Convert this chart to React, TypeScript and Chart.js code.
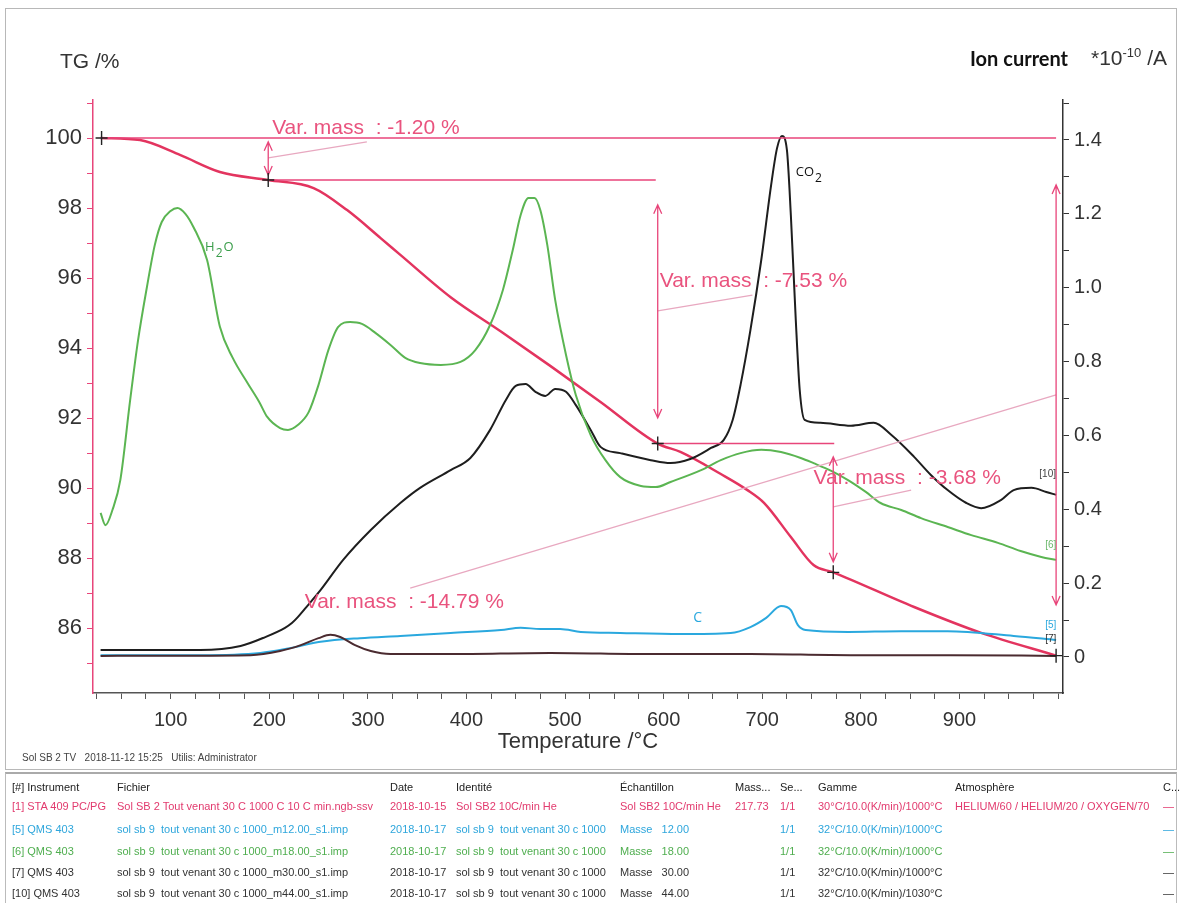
import React, { useEffect, useRef } from 'react';
import { Chart, registerables } from 'chart.js';
Chart.register(...registerables);

const FONT = '"Liberation Sans", Arial, Helvetica, sans-serif';

// ---- TG curve (mass %) ----
const tgTemp = [29, 69, 110, 150, 199, 245, 279, 313, 333, 384, 435, 485, 536, 594, 617, 658, 685, 702, 729, 752, 772, 854, 922, 998];
const tgMass = [100.0, 99.94, 99.51, 99.03, 98.8, 98.57, 97.94, 97.14, 96.66, 95.45, 94.47, 93.49, 92.46, 91.27, 91.03, 90.4, 89.94, 89.57, 88.6, 87.8, 87.59, 86.6, 85.86, 85.21];

// ---- Ion currents (*1e-10 A) ----
const h2oTemp = [29, 34, 41, 49, 59, 67, 76, 84, 91, 100, 107, 115, 123, 137, 150, 163, 178, 190, 198, 211, 219, 229, 240, 250, 260, 270, 282, 294, 308, 323, 338, 353, 374, 394, 409, 424, 437, 447, 455, 463, 469, 475, 482, 490, 501, 511, 526, 541, 556, 577, 592, 607, 638, 658, 678, 699, 719, 739, 752, 770, 787, 805, 820, 841, 861, 888, 912, 939, 962, 983, 998];
const h2oVal = [0.39, 0.357, 0.398, 0.479, 0.696, 0.858, 1.002, 1.116, 1.178, 1.208, 1.216, 1.2, 1.165, 1.075, 0.894, 0.81, 0.742, 0.69, 0.65, 0.62, 0.615, 0.628, 0.663, 0.737, 0.831, 0.894, 0.907, 0.902, 0.877, 0.845, 0.81, 0.796, 0.791, 0.799, 0.831, 0.899, 0.994, 1.102, 1.197, 1.243, 1.243, 1.21, 1.116, 0.967, 0.818, 0.709, 0.601, 0.533, 0.487, 0.463, 0.46, 0.474, 0.506, 0.533, 0.552, 0.561, 0.555, 0.539, 0.525, 0.504, 0.479, 0.447, 0.417, 0.398, 0.376, 0.352, 0.33, 0.309, 0.287, 0.271, 0.263];

const co2Temp = [29, 79, 130, 171, 196, 216, 223, 229, 237, 252, 275, 303, 333, 353, 384, 404, 424, 440, 450, 460, 470, 480, 490, 501, 511, 526, 536, 556, 587, 607, 627, 648, 661, 670, 678, 688, 699, 709, 715, 720, 725, 729, 734, 738, 743, 759, 790, 813, 831, 854, 871, 888, 907, 922, 942, 955, 973, 988, 998];
const co2Val = [0.019, 0.019, 0.019, 0.03, 0.054, 0.079, 0.092, 0.108, 0.133, 0.181, 0.263, 0.344, 0.417, 0.458, 0.506, 0.539, 0.615, 0.696, 0.734, 0.739, 0.718, 0.707, 0.726, 0.718, 0.682, 0.615, 0.569, 0.552, 0.533, 0.525, 0.536, 0.566, 0.588, 0.642, 0.737, 0.885, 1.075, 1.278, 1.378, 1.411, 1.373, 1.197, 0.913, 0.723, 0.642, 0.634, 0.626, 0.634, 0.601, 0.542, 0.493, 0.452, 0.417, 0.403, 0.425, 0.452, 0.458, 0.447, 0.439];

const cTemp = [29, 130, 191, 221, 252, 292, 333, 384, 435, 455, 475, 495, 516, 556, 617, 668, 688, 704, 719, 729, 736, 744, 787, 841, 888, 955, 998];
const cVal = [0.005, 0.005, 0.011, 0.024, 0.041, 0.051, 0.057, 0.065, 0.073, 0.079, 0.076, 0.076, 0.068, 0.065, 0.062, 0.065, 0.081, 0.106, 0.138, 0.127, 0.087, 0.073, 0.068, 0.07, 0.07, 0.057, 0.046];

const m30Temp = [29, 181, 211, 232, 250, 262, 272, 287, 303, 323, 384, 485, 587, 688, 790, 891, 998];
const m30Val = [0.003, 0.005, 0.016, 0.032, 0.051, 0.06, 0.054, 0.032, 0.016, 0.008, 0.008, 0.011, 0.008, 0.008, 0.005, 0.005, 0.003];

// ---- axis ticks ----
const xMajorTicks = [100, 200, 300, 400, 500, 600, 700, 800, 900];
const tgMajorTicks = [86, 88, 90, 92, 94, 96, 98, 100];
const ionMajorTicks = [0, 0.2, 0.4, 0.6, 0.8, 1.0, 1.2, 1.4];

// ---- mass-step evaluation (temperature °C, mass %) ----
const stepTemp = [30, 199, 594, 772, 998];
const stepMass = [100.0, 98.8, 91.27, 87.59, 85.21];
const levelFromTemp = [30, 199, 594];
const levelToTemp = [998, 592, 773];
const levelMass = [100.0, 98.8, 91.27];
const arrowTemp = [199, 594, 772, 998];
const arrowFromMass = [99.89, 98.09, 90.89, 98.66];
const arrowToMass = [98.94, 92.0, 87.89, 86.66];
const leaderT1 = [199, 594, 772, 343];
const leaderM1 = [99.43, 95.06, 89.46, 87.14];
const leaderT2 = [299, 690, 851, 998];
const leaderM2 = [99.89, 95.51, 89.94, 92.66];
const stepLabels = ['Var. mass  : -1.20 %', 'Var. mass  : -7.53 %', 'Var. mass  : -3.68 %', 'Var. mass  : -14.79 %'];
const stepLabelTemp = [203, 596, 752, 236];
const stepLabelMass = [100.29, 95.91, 90.29, 86.74];

// ---- table ----
const tableHeader = ['[#] Instrument', 'Fichier', 'Date', 'Identité', 'Échantillon', 'Mass...', 'Se...', 'Gamme', 'Atmosphère', 'C...'];
const tableRows = [
  ['[1] STA 409 PC/PG', 'Sol SB 2 Tout venant 30 C 1000 C 10 C min.ngb-ssv', '2018-10-15', 'Sol SB2 10C/min He', 'Sol SB2 10C/min He', '217.73', '1/1', '30°C/10.0(K/min)/1000°C', 'HELIUM/60 / HELIUM/20 / OXYGEN/70', '—'],
  ['[5] QMS 403', 'sol sb 9  tout venant 30 c 1000_m12.00_s1.imp', '2018-10-17', 'sol sb 9  tout venant 30 c 1000', 'Masse   12.00', '', '1/1', '32°C/10.0(K/min)/1000°C', '', '—'],
  ['[6] QMS 403', 'sol sb 9  tout venant 30 c 1000_m18.00_s1.imp', '2018-10-17', 'sol sb 9  tout venant 30 c 1000', 'Masse   18.00', '', '1/1', '32°C/10.0(K/min)/1000°C', '', '—'],
  ['[7] QMS 403', 'sol sb 9  tout venant 30 c 1000_m30.00_s1.imp', '2018-10-17', 'sol sb 9  tout venant 30 c 1000', 'Masse   30.00', '', '1/1', '32°C/10.0(K/min)/1000°C', '', '—'],
  ['[10] QMS 403', 'sol sb 9  tout venant 30 c 1000_m44.00_s1.imp', '2018-10-17', 'sol sb 9  tout venant 30 c 1000', 'Masse   44.00', '', '1/1', '32°C/10.0(K/min)/1030°C', '', '—'],
];
const tableColX = [12, 117, 390, 456, 620, 735, 780, 818, 955, 1163];
const tableRowY = [787, 806, 829, 851, 872, 893];
const tableRowColor = ['#e23a6e', '#2ea6dc', '#4fae4f', '#333333', '#333333'];

const TG_COLOR = '#e3345f';
const PINK = '#e8457a';
const PINK_TEXT = '#e9537e';
const PALE = '#e8a8c0';
const GREEN = '#5bb552';
const BLACK = '#1e1e1e';
const BLUE = '#2aa8de';
const BROWN = '#4b2b30';

const annotPlugin = {
  id: 'annot',
  afterDatasetsDraw(chart: any) {
    const { ctx, scales } = chart;
    const X = (t: number) => scales.x.getPixelForValue(t);
    const Y = (m: number) => scales.y.getPixelForValue(m);
    const Y1 = (v: number) => scales.y1.getPixelForValue(v);
    ctx.save();
    ctx.strokeStyle = PINK;
    ctx.lineWidth = 1.5;
    levelMass.forEach((m, i) => {
      ctx.beginPath();
      ctx.moveTo(X(levelFromTemp[i]), Y(m));
      ctx.lineTo(X(levelToTemp[i]), Y(m));
      ctx.stroke();
    });
    ctx.strokeStyle = PALE;
    ctx.lineWidth = 1.3;
    leaderT1.forEach((t, i) => {
      ctx.beginPath();
      ctx.moveTo(X(t), Y(leaderM1[i]));
      ctx.lineTo(X(leaderT2[i]), Y(leaderM2[i]));
      ctx.stroke();
    });
    ctx.strokeStyle = PINK;
    ctx.lineWidth = 1.3;
    arrowTemp.forEach((t, i) => {
      const x = X(t);
      const y0 = Y(arrowFromMass[i]);
      const y1 = Y(arrowToMass[i]);
      ctx.beginPath();
      ctx.moveTo(x, y0);
      ctx.lineTo(x, y1);
      ctx.moveTo(x - 4, y0 + 9);
      ctx.lineTo(x, y0);
      ctx.lineTo(x + 4, y0 + 9);
      ctx.moveTo(x - 4, y1 - 9);
      ctx.lineTo(x, y1);
      ctx.lineTo(x + 4, y1 - 9);
      ctx.stroke();
    });
    ctx.strokeStyle = '#222';
    ctx.lineWidth = 1.4;
    stepTemp.forEach((t, i) => {
      const x = X(t);
      const y = Y(stepMass[i]);
      ctx.beginPath();
      ctx.moveTo(x - 6, y);
      ctx.lineTo(x + 6, y);
      ctx.moveTo(x, y - 7);
      ctx.lineTo(x, y + 7);
      ctx.stroke();
    });
    ctx.font = `21px ${FONT}`;
    ctx.fillStyle = PINK_TEXT;
    ctx.textBaseline = 'middle';
    ctx.textAlign = 'left';
    stepLabels.forEach((s, i) => {
      ctx.fillText(s, X(stepLabelTemp[i]), Y(stepLabelMass[i]));
    });
    const sub = (parts: [string, boolean][], x: number, y: number, color: string, size: number) => {
      ctx.fillStyle = color;
      let cx = x;
      parts.forEach(([txt, low]) => {
        ctx.font = `${low ? size - 1 : size}px "Open Sans", ${FONT}`;
        ctx.fillText(txt, cx, low ? y + 6 : y);
        cx += ctx.measureText(txt).width + 1;
      });
    };
    sub([['H', false], ['2', true], ['O', false]], X(135), Y1(1.11), '#3a9d4a', 13);
    sub([['CO', false], ['2', true]], X(734), Y1(1.313), '#111', 13);
    sub([['C', false]], X(630), Y1(0.106), BLUE, 14);
    ctx.font = `10px ${FONT}`;
    ctx.fillStyle = '#444';
    ctx.fillText('[10]', X(981), Y1(0.496));
    ctx.fillStyle = '#6bb86b';
    ctx.fillText('[6]', X(987), Y1(0.303));
    ctx.fillStyle = BLUE;
    ctx.fillText('[5]', X(987), Y1(0.087));
    ctx.fillStyle = '#333';
    ctx.fillText('[7]', X(987), Y1(0.049));
    ctx.restore();
  },
};

export default function App() {
  const ref = useRef<HTMLCanvasElement>(null);
  useEffect(() => {
    const pts = (t: number[], v: number[]) => t.map((x, i) => ({ x, y: v[i] }));
    const line = (data: any, color: string, axis: string, w = 2) => ({
      data,
      yAxisID: axis,
      borderColor: color,
      borderWidth: w,
      pointRadius: 0,
      fill: false,
      cubicInterpolationMode: 'monotone',
    });
    const xMinor: number[] = [];
    for (let v = 25; v <= 1000; v += 25) xMinor.push(v);
    const tgTicks: number[] = [];
    for (let v = 85; v <= 101; v += 1) tgTicks.push(v);
    const ionTicks: number[] = [];
    for (let k = 0; k <= 15; k++) ionTicks.push(k / 10);

    const chart = new Chart(ref.current as HTMLCanvasElement, {
      type: 'line',
      data: {
        datasets: [
          line(pts(m30Temp, m30Val), BROWN, 'y1'),
          line(pts(cTemp, cVal), BLUE, 'y1'),
          line(pts(h2oTemp, h2oVal), GREEN, 'y1'),
          line(pts(co2Temp, co2Val), BLACK, 'y1'),
          line(pts(tgTemp, tgMass), TG_COLOR, 'y', 2.5),
        ] as any,
      },
      options: {
        responsive: false,
        animation: false,
        layout: { padding: { top: 100, left: 0, right: 0, bottom: 0 } },
        plugins: { legend: { display: false }, tooltip: { enabled: false } },
        scales: {
          x: {
            type: 'linear',
            min: 21.3,
            max: 1005,
            afterFit: (s: any) => { s.height = 210; },
            afterBuildTicks: (s: any) => { s.ticks = xMinor.map((value) => ({ value })); },
            grid: { drawOnChartArea: false, drawTicks: true, tickLength: 6, color: '#555' },
            border: { display: true, color: '#555', width: 1.5 },
            ticks: {
              autoSkip: false,
              maxRotation: 0,
              padding: 9,
              color: '#333',
              font: { family: FONT, size: 20 },
              callback: (v: any) => (xMajorTicks.includes(v) ? String(v) : ''),
            },
            title: {
              display: true,
              text: 'Temperature /°C',
              color: '#333',
              font: { family: FONT, size: 22 },
              padding: { top: 0, bottom: 148 },
            },
          },
          y: {
            type: 'linear',
            position: 'left',
            min: 84.143,
            max: 101.086,
            afterFit: (s: any) => { s.width = 93; },
            afterBuildTicks: (s: any) => { s.ticks = tgTicks.map((value) => ({ value })); },
            grid: { drawOnChartArea: false, drawTicks: true, tickLength: 6, color: PINK },
            border: { display: true, color: PINK, width: 1.5 },
            ticks: {
              autoSkip: false,
              padding: 5,
              color: '#333',
              font: { family: FONT, size: 22 },
              callback: (v: any) => (tgMajorTicks.includes(v) ? String(v) : ''),
            },
          },
          y1: {
            type: 'linear',
            position: 'right',
            min: -0.0975,
            max: 1.5083,
            afterFit: (s: any) => { s.width = 120; },
            afterBuildTicks: (s: any) => { s.ticks = ionTicks.map((value) => ({ value })); },
            grid: { drawOnChartArea: false, drawTicks: true, tickLength: 6, color: '#333' },
            border: { display: true, color: '#333', width: 1.5 },
            ticks: {
              autoSkip: false,
              padding: 5,
              color: '#333',
              font: { family: FONT, size: 20 },
              callback: (v: any) =>
                ionMajorTicks.some((t) => Math.abs(t - v) < 1e-6) ? (v === 0 ? '0' : Number(v).toFixed(1)) : '',
            },
          },
        },
      } as any,
      plugins: [annotPlugin],
    });
    return () => chart.destroy();
  }, []);

  const abs = (x: number, y: number, extra: any = {}) => ({
    position: 'absolute' as const,
    left: x,
    top: y,
    whiteSpace: 'pre' as const,
    ...extra,
  });

  return (
    <div style={{ position: 'absolute', left: 0, top: 0, width: 1183, height: 903, background: '#fff', overflow: 'hidden', fontFamily: FONT }}>
      <div style={abs(5, 8, { width: 1172, height: 762, border: '1px solid #b8b8b8', boxSizing: 'border-box' })} />
      <div style={abs(5, 772, { width: 1172, height: 131, borderTop: '2px solid #aaa', borderLeft: '1px solid #bbb', borderRight: '1px solid #bbb', boxSizing: 'border-box' })} />
      <canvas ref={ref} width={1183} height={903} style={{ position: 'absolute', left: 0, top: 0, width: 1183, height: 903 }} />
      <div style={abs(60, 48, { fontSize: 21, lineHeight: '26px', color: '#333' })}>TG /%</div>
      <div style={abs(970, 45, { fontSize: 20, lineHeight: '26px', color: '#111', fontWeight: 'bold', fontFamily: 'Lato, "Open Sans", sans-serif' })}>Ion current</div>
      <div style={abs(1091, 45, { fontSize: 21, lineHeight: '26px', color: '#333' })}>
        *10<sup style={{ fontSize: 13, verticalAlign: 'top', lineHeight: '16px' }}>-10</sup> /A
      </div>
      <div style={abs(22, 751, { fontSize: 10, lineHeight: '14px', color: '#444' })}>Sol SB 2 TV   2018-11-12 15:25   Utilis: Administrator</div>
      {tableHeader.map((h, i) => (
        <div key={'h' + i} style={abs(tableColX[i], tableRowY[0] - 8, { fontSize: 11, lineHeight: '16px', color: '#222' })}>{h}</div>
      ))}
      {tableRows.map((row, r) =>
        row.map((cell, c) => (
          <div key={r + '-' + c} style={abs(tableColX[c], tableRowY[r + 1] - 8, { fontSize: 11, lineHeight: '16px', color: tableRowColor[r] })}>{cell}</div>
        ))
      )}
    </div>
  );
}
